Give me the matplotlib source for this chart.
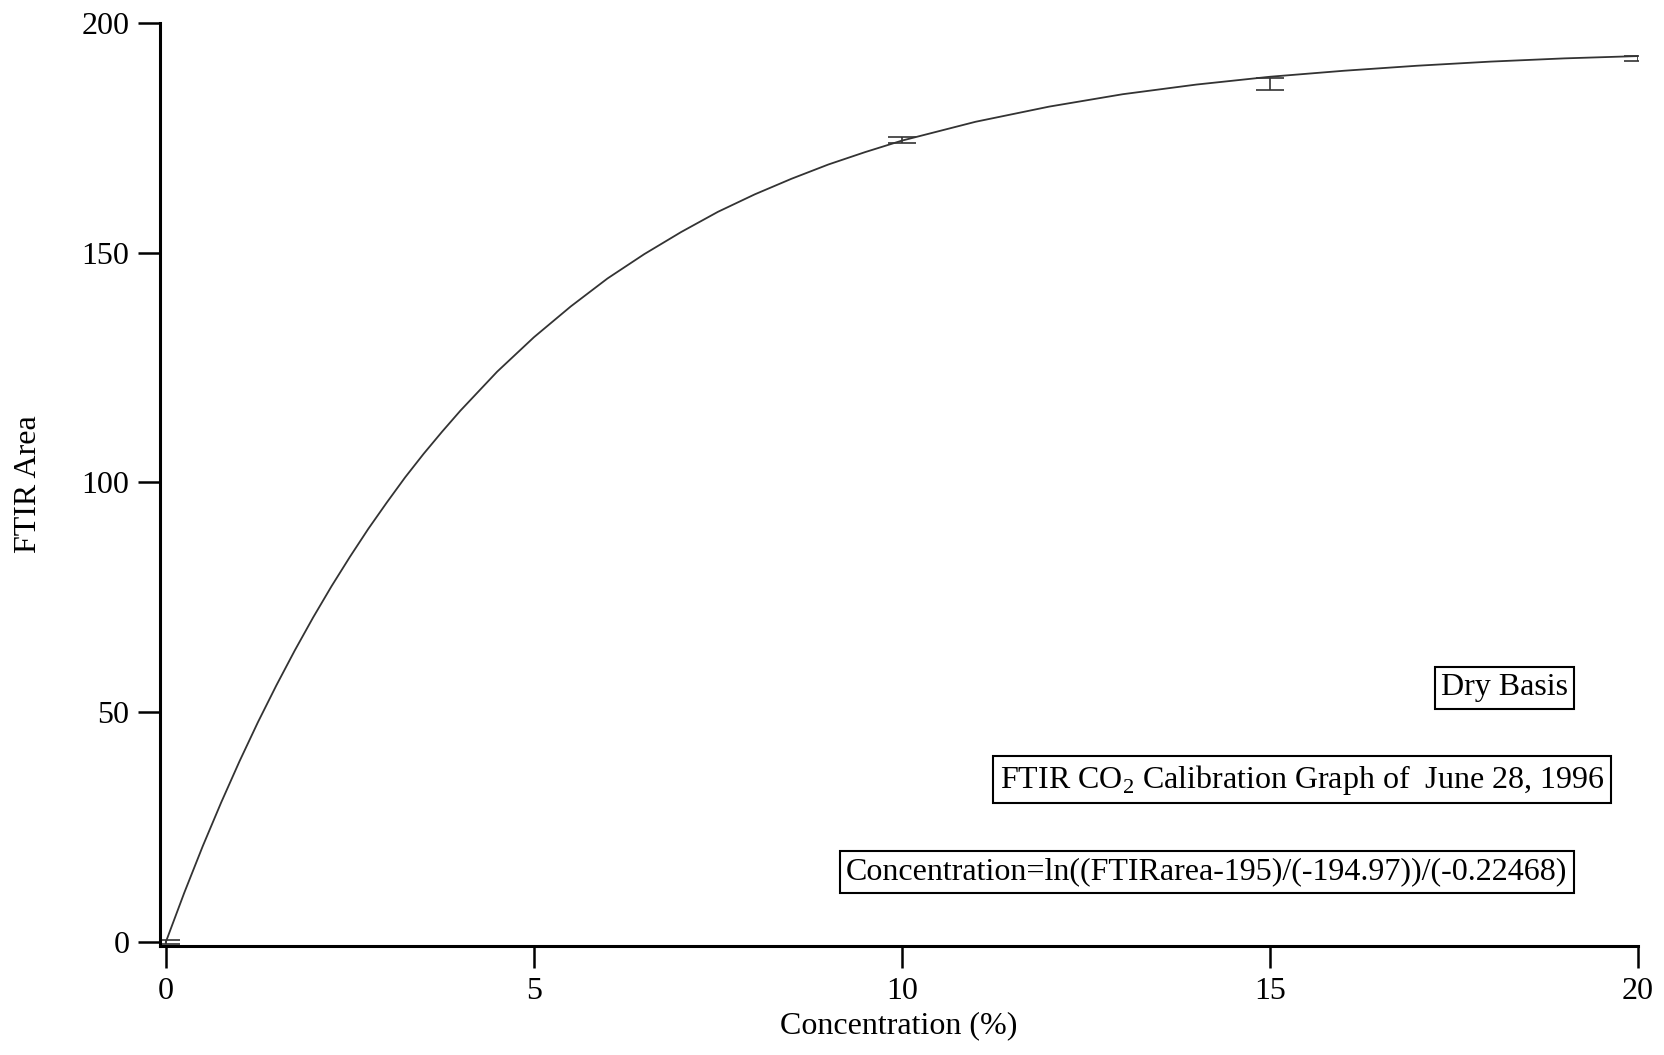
import matplotlib
matplotlib.use("Agg")
import matplotlib.pyplot as plt

# fitted calibration curve
conc_fit = [0, 0.25, 0.5, 0.75, 1, 1.25, 1.5, 1.75, 2, 2.25, 2.5, 2.75, 3,
            3.25, 3.5, 3.75, 4, 4.5, 5, 5.5, 6, 6.5, 7, 7.5, 8, 8.5, 9, 9.5,
            10, 11, 12, 13, 14, 15, 16, 17, 18, 19, 20]
area_fit = [0.0, 10.7, 20.8, 30.3, 39.3, 47.8, 55.8, 63.4, 70.6, 77.4, 83.8,
            89.9, 95.6, 101.1, 106.2, 111.0, 115.6, 124.1, 131.6, 138.3,
            144.4, 149.7, 154.5, 158.9, 162.7, 166.1, 169.2, 171.9, 174.4,
            178.5, 181.8, 184.5, 186.6, 188.3, 189.6, 190.7, 191.6, 192.3, 192.8]

# measured calibration points with error bars
conc_pts = [0, 10, 15, 20]
area_pts = [0.0, 174.5, 186.7, 192.3]
area_err = [0.5, 0.65, 1.3, 0.55]

xticks = [0, 5, 10, 15, 20]
yticks = [0, 50, 100, 150, 200]

plt.rcParams['font.family'] = ['Liberation Serif', 'DejaVu Serif']
plt.rcParams['mathtext.fontset'] = 'custom'
plt.rcParams['mathtext.rm'] = 'Liberation Serif'
plt.rcParams['font.size'] = 23

fig = plt.figure(figsize=(16.65, 10.55), dpi=100)
ax = fig.add_axes([160 / 1665, 109 / 1055, (1638 - 160) / 1665, (946 - 23) / 1055])

ax.plot(conc_fit, area_fit, color='#333333', lw=1.3)
ax.errorbar(conc_pts, area_pts, yerr=area_err, fmt='none', ecolor='#333333',
            elinewidth=1.2, capsize=10, capthick=1.2)

ax.set_xlim(-0.08, 20)
ax.set_ylim(-0.9, 200)
ax.set_xticks(xticks)
ax.set_yticks(yticks)
ax.spines['top'].set_visible(False)
ax.spines['right'].set_visible(False)
ax.spines['left'].set_linewidth(2.2)
ax.spines['bottom'].set_linewidth(2.2)
ax.tick_params(direction='out', length=16, width=1.8, pad=6)

ax.set_xlabel("Concentration (%)", labelpad=4)
ax.set_ylabel("FTIR Area", labelpad=28)

box = dict(boxstyle='square,pad=0.2', facecolor='white', edgecolor='black', lw=1.5)
ax.text(19.05, 55.3, "Dry Basis", ha='right', va='center', bbox=box)
ax.text(19.54, 35.3, r"FTIR CO$_\mathrm{2}$ Calibration Graph of  June 28, 1996",
        ha='right', va='center', bbox=box)
ax.text(19.04, 15.2, "Concentration=ln((FTIRarea-195)/(-194.97))/(-0.22468)",
        ha='right', va='center', bbox=box)

fig.savefig("out.png", dpi=100)
